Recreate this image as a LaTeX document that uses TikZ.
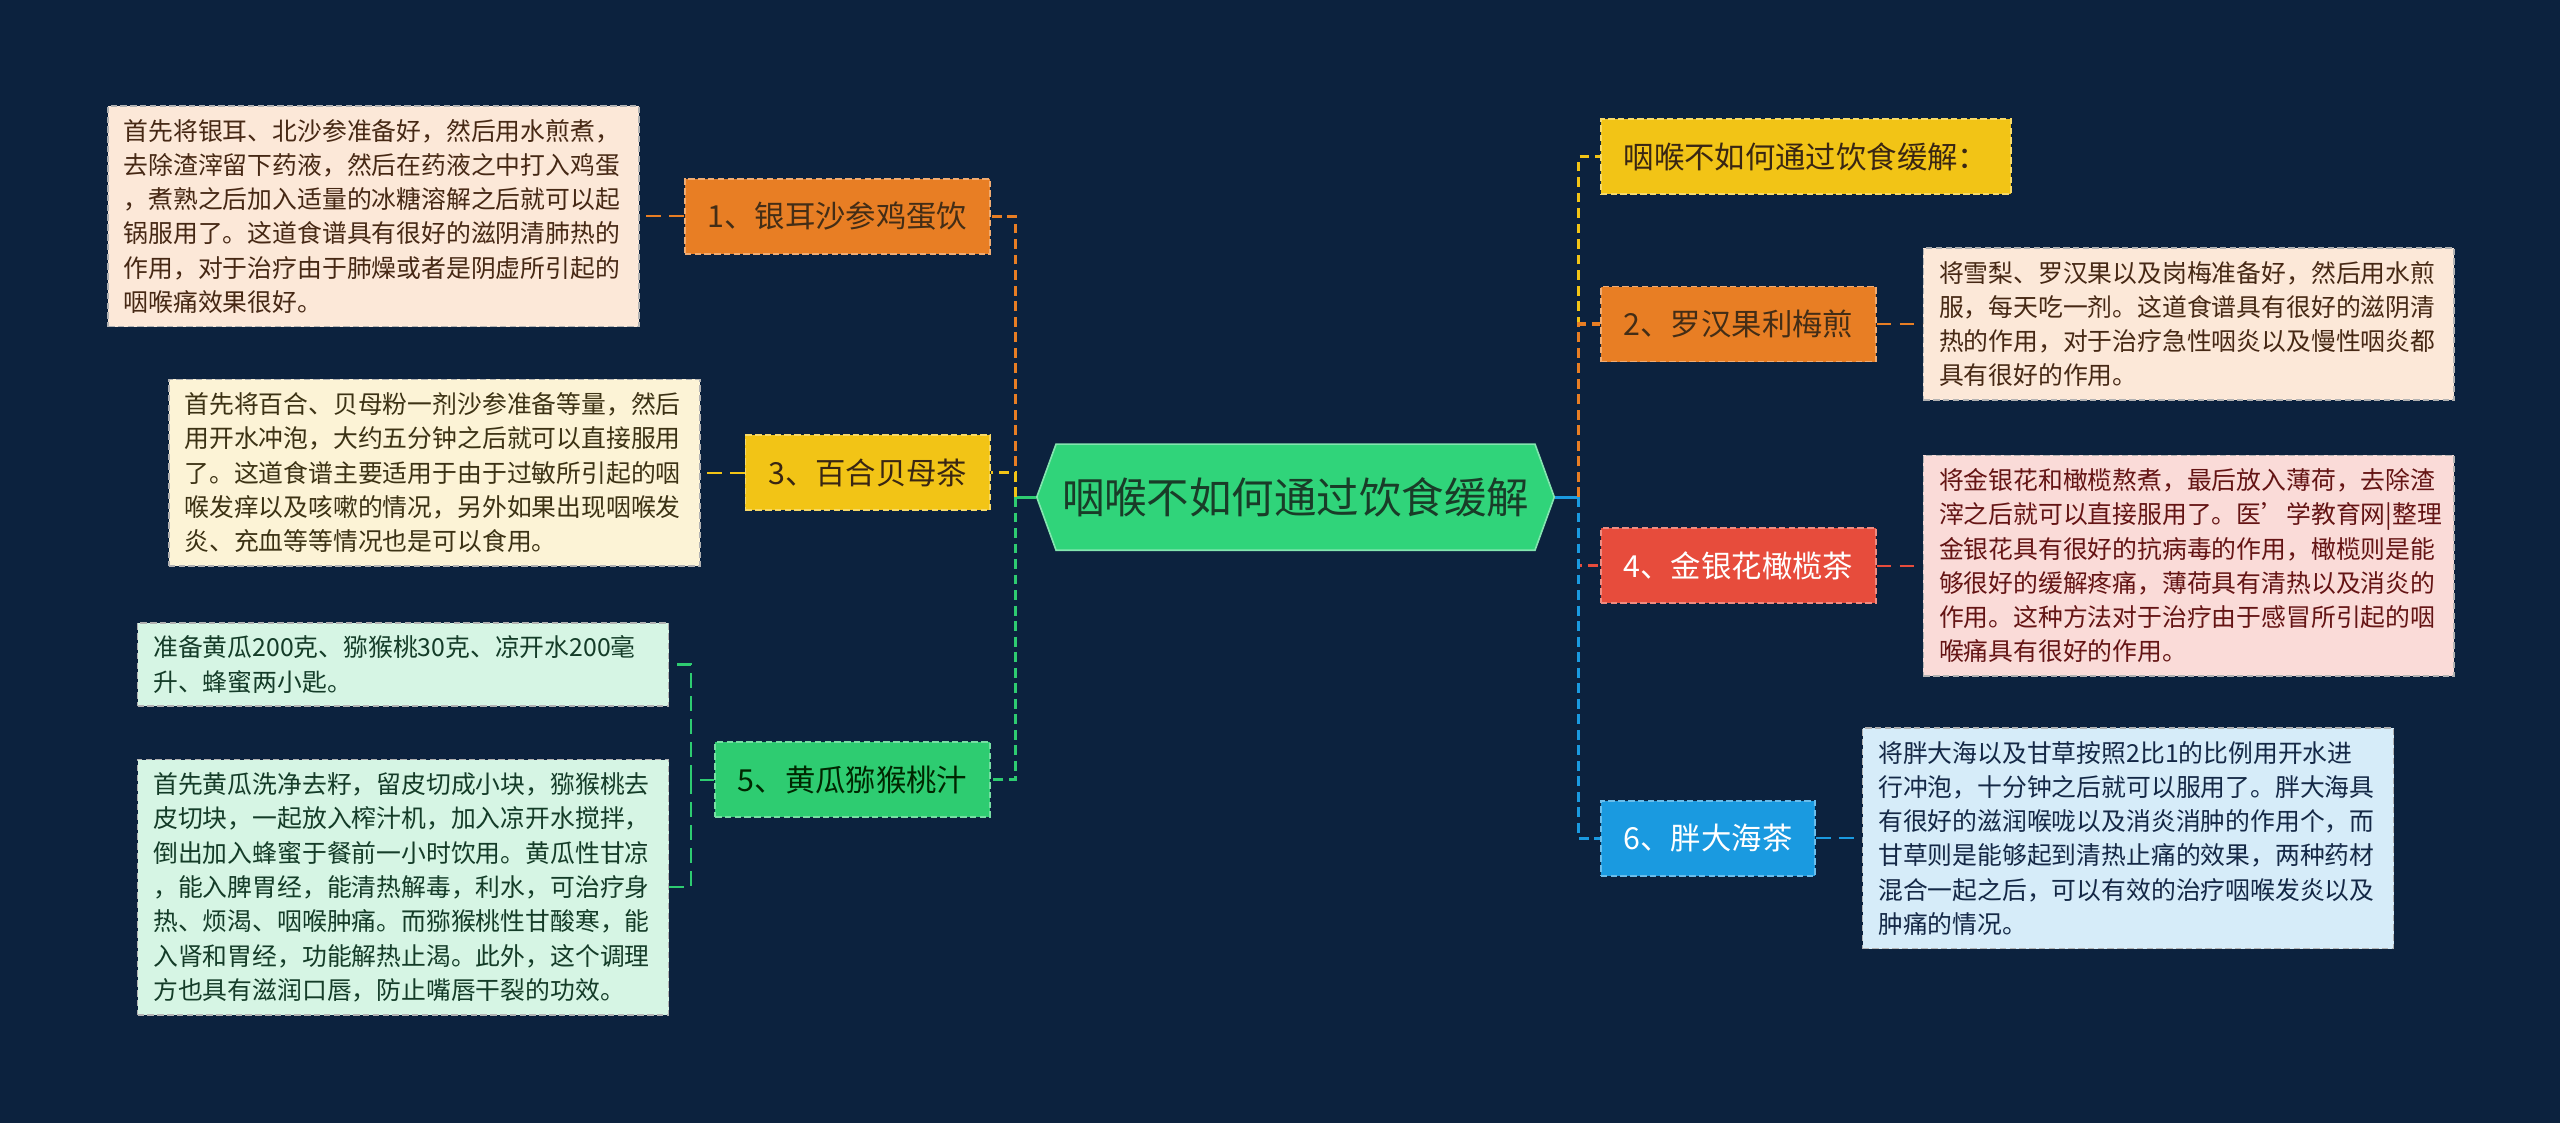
\documentclass[tikz,border=0pt]{standalone}
\usepackage{fontspec}
\setmainfont{Noto Sans CJK SC}
\usepackage{xcolor}
\usetikzlibrary{shapes, arrows.meta, positioning}

\definecolor{bgnavy}{RGB}{12,34,62}
\definecolor{hubgreen}{RGB}{48,212,122}
\definecolor{brorange}{RGB}{232,126,36}
\definecolor{bryellow}{RGB}{242,196,22}
\definecolor{brgreen}{RGB}{46,204,113}
\definecolor{brred}{RGB}{231,76,60}
\definecolor{brblue}{RGB}{26,154,224}
\definecolor{notepeach}{RGB}{252,232,216}
\definecolor{noteyellow}{RGB}{252,243,214}
\definecolor{notemint}{RGB}{214,245,228}
\definecolor{notepink}{RGB}{250,219,216}
\definecolor{noteblue}{RGB}{214,236,249}

\begin{document}
\begin{tikzpicture}[
		x=1pt, y=1pt,
		hub/.style={signal, signal to=west and east, signal pointer angle=140, fill=hubgreen, draw=hubgreen!60!white, line width=1pt, minimum width=317pt, minimum height=65pt, font=\fontsize{26}{30}\selectfont, text={rgb,255:red,25;green,60;blue,40}},
		branch/.style={draw, dash pattern=on 4pt off 2pt, line width=1pt, minimum height=46pt, inner xsep=14pt, font=\fontsize{18.6}{22}\selectfont},
		notebox/.style={draw=gray!60, dash pattern=on 4pt off 2pt, line width=1pt, text width=306pt, inner xsep=9.6pt, inner ysep=8pt, align=left, font=\fontsize{15.2}{21}\selectfont},
		trunk/.style={dash pattern=on 6pt off 3.5pt, line width=2pt},
		link/.style={dash pattern=on 9pt off 5pt, line width=1.3pt},
		node distance=27pt
		]
		
		% Canvas
		\fill[bgnavy] (0,0) rectangle (1568,688);
		\useasboundingbox (0,0) rectangle (1568,688);
		
		% Centre
		\node[hub] (hub) at (793.5,383.5) {咽喉不如何通过饮食缓解};
		
		% Left branches
		\node[branch, fill=brorange, draw=brorange!65!white, text=brown!35!black, anchor=east] (yiner) at (607,555.5) {1、银耳沙参鸡蛋饮};
		\node[branch, fill=bryellow, draw=bryellow!65!white, text=brown!30!black, anchor=east] (baihe) at (607,398.5) {3、百合贝母茶};
		\node[branch, fill=brgreen, draw=brgreen!65!white, text=green!15!black, anchor=east] (huanggua) at (607,210.5) {5、黄瓜猕猴桃汁};
		
		% Right branches
		\node[branch, fill=bryellow, draw=bryellow!65!white, text=brown!30!black, anchor=west] (title) at (980,592) {咽喉不如何通过饮食缓解：};
		\node[branch, fill=brorange, draw=brorange!65!white, text=brown!35!black, anchor=west] (luohan) at (980,489.5) {2、罗汉果利梅煎};
		\node[branch, fill=brred, draw=brred!65!white, text=white, anchor=west] (jinyin) at (980,341.5) {4、金银花橄榄茶};
		\node[branch, fill=brblue, draw=brblue!65!white, text=white, anchor=west] (pangda) at (980,174.5) {6、胖大海茶};
		
		% Notes
		\node[notebox, fill=notepeach, text={rgb,255:red,70;green,40;blue,20}, left=of yiner] (yinernote) {首先将银耳、北沙参准备好，然后用水煎煮，\\去除渣滓留下药液，然后在药液之中打入鸡蛋\\，煮熟之后加入适量的冰糖溶解之后就可以起\\锅服用了。这道食谱具有很好的滋阴清肺热的\\作用，对于治疗由于肺燥或者是阴虚所引起的\\咽喉痛效果很好。};
		\node[notebox, fill=noteyellow, text={rgb,255:red,60;green,50;blue,20}, left=of baihe] (baihenote) {首先将百合、贝母粉一剂沙参准备等量，然后\\用开水冲泡，大约五分钟之后就可以直接服用\\了。这道食谱主要适用于由于过敏所引起的咽\\喉发痒以及咳嗽的情况，另外如果出现咽喉发\\炎、充血等等情况也是可以食用。};
		\node[notebox, fill=notemint, text={rgb,255:red,20;green,60;blue,40}, anchor=east] (huangguaa) at (410,281) {准备黄瓜200克、猕猴桃30克、凉开水200毫\\升、蜂蜜两小匙。};
		\node[notebox, fill=notemint, text={rgb,255:red,20;green,60;blue,40}, anchor=east] (huangguab) at (410,144.5) {首先黄瓜洗净去籽，留皮切成小块，猕猴桃去\\皮切块，一起放入榨汁机，加入凉开水搅拌，\\倒出加入蜂蜜于餐前一小时饮用。黄瓜性甘凉\\，能入脾胃经，能清热解毒，利水，可治疗身\\热、烦渴、咽喉肿痛。而猕猴桃性甘酸寒，能\\入肾和胃经，功能解热止渴。此外，这个调理\\方也具有滋润口唇，防止嘴唇干裂的功效。};
		\node[notebox, fill=notepeach, text={rgb,255:red,70;green,40;blue,20}, right=28pt of luohan] (luohannote) {将雪梨、罗汉果以及岗梅准备好，然后用水煎\\服，每天吃一剂。这道食谱具有很好的滋阴清\\热的作用，对于治疗急性咽炎以及慢性咽炎都\\具有很好的作用。};
		\node[notebox, fill=notepink, text={rgb,255:red,100;green,20;blue,20}, right=28pt of jinyin] (jinyinnote) {将金银花和橄榄熬煮，最后放入薄荷，去除渣\\滓之后就可以直接服用了。医\symbol{39}学教育网|整理\\金银花具有很好的抗病毒的作用，橄榄则是能\\够很好的缓解疼痛，薄荷具有清热以及消炎的\\作用。这种方法对于治疗由于感冒所引起的咽\\喉痛具有很好的作用。};
		\node[notebox, fill=noteblue, text={rgb,255:red,20;green,40;blue,70}, right=28pt of pangda] (pangdanote) {将胖大海以及甘草按照2比1的比例用开水进\\行冲泡，十分钟之后就可以服用了。胖大海具\\有很好的滋润喉咙以及消炎消肿的作用个，而\\甘草则是能够起到清热止痛的效果，两种药材\\混合一起之后，可以有效的治疗咽喉发炎以及\\肿痛的情况。};
		
		% Connectors
		\coordinate (ltrunk) at (622,383.5);
		\coordinate (rtrunk) at (967,383.5);
		\coordinate (fork) at (423,210.5);
		
		\draw[line width=2pt, brgreen] (hub.west) -- (ltrunk);
		\draw[line width=2pt, brblue] (hub.east) -- (rtrunk);
		
		\foreach \b/\c in {yiner/brorange, baihe/bryellow, huanggua/brgreen}
		\draw[trunk, \c] (ltrunk) |- (\b.east);
		\foreach \b/\c in {title/bryellow, luohan/brorange, jinyin/brred, pangda/brblue}
		\draw[trunk, \c] (rtrunk) |- (\b.west);
		
		\foreach \b/\n/\c in {yiner/yinernote/brorange, baihe/baihenote/bryellow}
		\draw[link, \c] (\b.west) -- (\n.east);
		\foreach \b/\n/\c in {luohan/luohannote/brorange, jinyin/jinyinnote/brred, pangda/pangdanote/brblue}
		\draw[link, \c] (\b.east) -- (\n.west);
		
		\draw[link, brgreen] (huanggua.west) -- (fork);
		\foreach \n in {huangguaa, huangguab}
		\draw[link, brgreen] (fork) |- (\n.east);
		
	\end{tikzpicture}
\end{document}
